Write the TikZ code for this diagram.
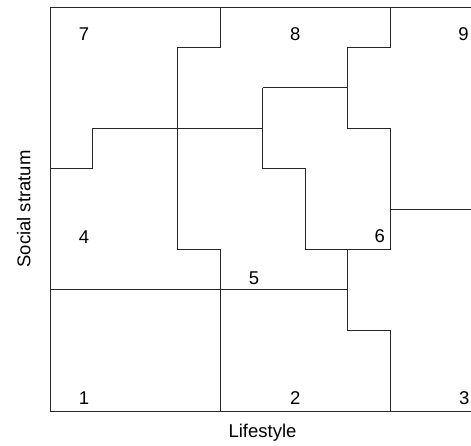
\documentclass[tikz,border=0pt]{standalone}
\usepackage{fontspec}
\setmainfont{Liberation Sans}
\begin{document}
\begin{tikzpicture}[x=42.5pt,y=40.4pt,
  bound/.style={line width=0.9pt,draw=black!85},
  region/.style={font=\fontsize{18.5}{20}\selectfont,anchor=base,inner sep=0pt},
  axislabel/.style={font=\fontsize{18.5}{20}\selectfont,inner sep=0pt}]
\useasboundingbox (-50/42.5,-34/40.4) rectangle (421/42.5,411/40.4);
% frame
\coordinate (tl) at (0,10);
\coordinate (bl) at (0,0);
\coordinate (tr) at (10,10);
\coordinate (br) at (10,0);
\draw[bound] (tr) -- (tl) -- (bl) -- (br);
% boundaries
\draw[bound] (4,10) -- (4,9) -- (3,9) -- (3,4) -- (4,4) -- (4,0);
\draw[bound] (0,3) -- (7,3);
\draw[bound] (8,0) -- (8,2) -- (7,2) -- (7,4);
\draw[bound] (6,4) -- (8,4) -- (8,7) -- (7,7) -- (7,9) -- (8,9) -- (8,10);
\draw[bound] (8,5) -- (10,5);
\draw[bound] (5,8) -- (7,8);
\draw[bound] (0,6) -- (1,6) -- (1,7) -- (5,7);
\draw[bound] (5,8) -- (5,6) -- (6,6) -- (6,4);
% region labels
\node[region] (r7) at (0.8,9.16) {7};
\node[region] (r8) at (5.77,9.16) {8};
\node[region] (r9) at (9.73,9.16) {9};
\node[region] (r4) at (0.8,4.15) {4};
\node[region] (r5) at (4.8,3.14) {5};
\node[region] (r6) at (7.76,4.16) {6};
\node[region] (r1) at (0.8,0.17) {1};
\node[region] (r2) at (5.77,0.17) {2};
\node[region] (r3) at (9.75,0.17) {3};
% axis labels
\node[axislabel,anchor=base] (xl) at (5,-0.668) {Lifestyle};
\node[axislabel,rotate=90] (yl) at (-0.62,5) {Social stratum};
\end{tikzpicture}
\end{document}
